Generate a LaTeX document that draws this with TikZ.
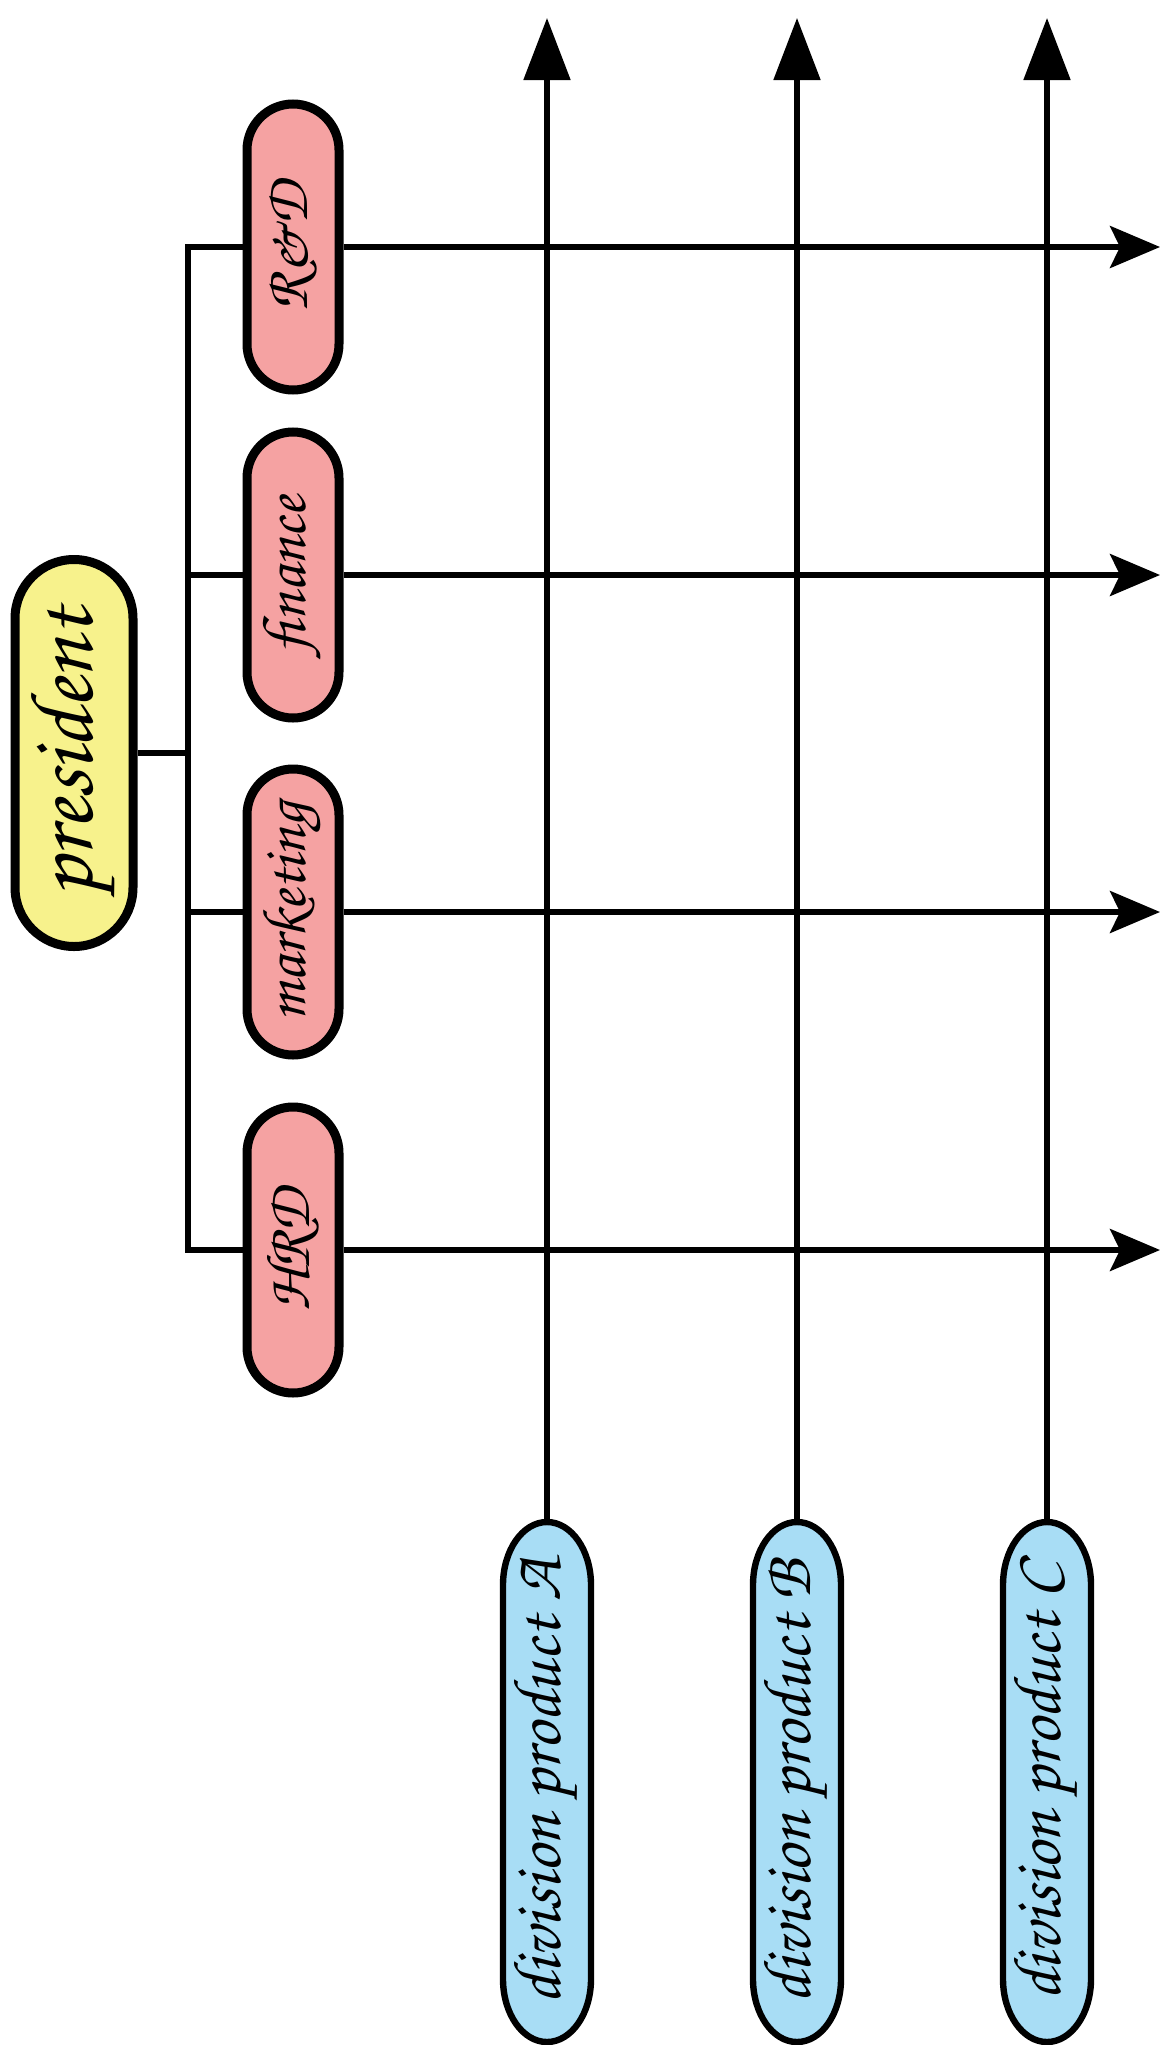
\documentclass[tikz,border=0pt]{standalone}
\usepackage[T1,TU]{fontenc}
\usetikzlibrary{shapes.misc,arrows.meta}
\definecolor{presfill}{RGB}{247,242,140}
\definecolor{deptfill}{RGB}{245,162,162}
\definecolor{divfill}{RGB}{168,221,245}
\newcommand\handfont{\fontencoding{T1}\fontfamily{pzc}\fontseries{mb}\fontshape{it}\selectfont}
\begin{document}
\begin{tikzpicture}[x=0.5pt,y=-0.5pt,
  pill/.style={rounded rectangle, draw=black, line width=4.5pt, rotate=90, inner sep=0pt},
  presbox/.style={pill, fill=presfill, minimum width=193.5pt, minimum height=59pt,
    font=\handfont\fontsize{45}{48}\selectfont},
  deptbox/.style={pill, fill=deptfill, minimum width=143pt, minimum height=46pt,
    font=\handfont\fontsize{31}{34}\selectfont},
  divshape/.style={draw=black, line width=3.2pt, fill=divfill},
  divtext/.style={rectangle, rotate=90, inner sep=0pt, minimum width=260pt, minimum height=44pt,
    font=\handfont\fontsize{34}{36}\selectfont},
  busline/.style={line width=2.6pt},
  harrow/.style={line width=2.8pt, -{Stealth[length=25pt,width=21pt,inset=5pt]}},
  varrow/.style={line width=2.6pt, -{Triangle[length=31pt,width=23pt]}}
]
\useasboundingbox (0,0) rectangle (1162,2045);

% division pill outlines
\foreach \cx in {547,797,1047}{
  \draw[divshape] (\cx-44,1585) arc[start angle=180,end angle=0,x radius=22pt,y radius=31.5pt]
    -- (\cx+44,1979) arc[start angle=0,end angle=-180,x radius=22pt,y radius=31.5pt] -- cycle;
}

% nodes
\node[presbox] (pres) at (74,753) {president};
\node[deptbox] (rd)  at (293,247)  {R\&D};
\node[deptbox] (fin) at (293,575)  {finance};
\node[deptbox] (mkt) at (293,912)  {marketing};
\node[deptbox] (hrd) at (293,1250) {HRD};
\node[divtext] (dA) at (547,1782) {division product A};
\node[divtext] (dB) at (797,1782) {division product B};
\node[divtext] (dC) at (1047,1782) {division product C};

% coordinates
\coordinate (bus) at (188,753);
\coordinate (rdE)  at (1160,247);
\coordinate (finE) at (1160,575);
\coordinate (mktE) at (1160,912);
\coordinate (hrdE) at (1160,1250);
\coordinate (aN) at (547,18);
\coordinate (bN) at (797,18);
\coordinate (cN) at (1047,18);

% tree
\draw[busline] (pres.south) -- (bus);
\draw[busline] (rd.north) -| (bus);
\draw[busline] (hrd.north) -| (bus);
\draw[busline] (fin.north) -- (fin.north -| bus);
\draw[busline] (mkt.north) -- (mkt.north -| bus);

% horizontal arrows
\draw[harrow] (rd.south) -- (rdE);
\draw[harrow] (fin.south) -- (finE);
\draw[harrow] (mkt.south) -- (mktE);
\draw[harrow] (hrd.south) -- (hrdE);

% vertical arrows
\draw[varrow] (dA.east) -- (aN);
\draw[varrow] (dB.east) -- (bN);
\draw[varrow] (dC.east) -- (cN);
\end{tikzpicture}
\end{document}
